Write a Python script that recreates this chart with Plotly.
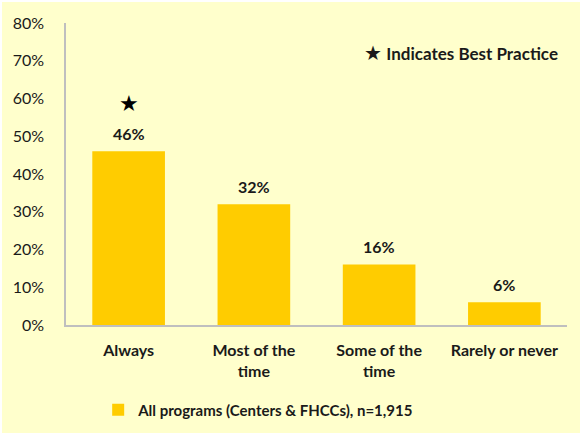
import plotly.graph_objects as go

categories = ["Always", "Most of the<br>time", "Some of the<br>time", "Rarely or never"]
values = [46, 32, 16, 6]
value_labels = ["46%", "32%", "16%", "6%"]
best_practice = [True, False, False, False]
y_ticks = [0, 10, 20, 30, 40, 50, 60, 70, 80]
y_tick_labels = ["0%", "10%", "20%", "30%", "40%", "50%", "60%", "70%", "80%"]
series_name = "<b>All programs (Centers & FHCCs), n=1,915</b>"

FONT = "Lato"
TXT = "#1a1a1a"
BG = "#FFFFCC"
L, R, T, B = 66, 13, 23, 108
W, H = 580, 433
PW, PH = W - L - R, H - T - B

fig = go.Figure()
fig.add_trace(go.Bar(
    x=categories, y=values, name=series_name,
    marker=dict(color="#FFCC00", line=dict(width=0)),
    showlegend=True,
))

annotations = []
for c, v, lab, bp in zip(categories, values, value_labels, best_practice):
    annotations.append(dict(x=c, y=v, xref="x", yref="y", text="<b>%s</b>" % lab,
                            showarrow=False, yshift=18, font=dict(size=16, color=TXT, family=FONT)))
    if bp:
        annotations.append(dict(x=c, y=v, xref="x", yref="y", text="★",
                                showarrow=False, yshift=48, font=dict(size=22, color="black", family="DejaVu Sans")))

annotations.append(dict(xref="paper", yref="paper", x=(362 - L) / PW, y=(H - B - 53) / PH,
                        xanchor="left", yanchor="middle", showarrow=False,
                        text="<span style='font-family:DejaVu Sans;font-size:20px'>★</span> <b>Indicates Best Practice</b>",
                        font=dict(size=17, color=TXT, family=FONT)))

# background with thin white edge at top/left
shapes = [dict(type="rect", xref="paper", yref="paper", layer="below",
               x0=(2 - L) / PW, x1=(W - L) / PW, y0=-(B) / PH, y1=(H - B - 2) / PH,
               fillcolor=BG, line=dict(width=0))]

fig.update_layout(
    width=W, height=H,
    margin=dict(l=L, r=R, t=T, b=B, autoexpand=False),
    paper_bgcolor="white", plot_bgcolor="rgba(0,0,0,0)",
    bargap=0.42,
    font=dict(family=FONT, color=TXT, size=15),
    xaxis=dict(showline=True, linecolor="#BFBFBF", linewidth=1.5, showgrid=False,
               tickvals=categories, ticktext=["<b>%s</b>" % c for c in categories],
               tickfont=dict(size=16, color=TXT, family=FONT), ticklabelstandoff=10),
    yaxis=dict(range=[0, 80], tickvals=y_ticks, ticktext=y_tick_labels, showline=True,
               linecolor="#BFBFBF", linewidth=1.5, showgrid=False, zeroline=False,
               tickfont=dict(size=16, color=TXT, family=FONT), ticklabelstandoff=17),
    legend=dict(orientation="h", xref="container", yref="container", x=0.446, y=1 - 410/433,
                xanchor="center", yanchor="middle", font=dict(size=15, color=TXT, family=FONT),
                bgcolor="rgba(0,0,0,0)"),
    annotations=annotations,
    shapes=shapes,
)

fig.write_html("out.html", config={"displayModeBar": False},
               post_script="document.body.style.margin='0';document.body.style.overflow='hidden';")
